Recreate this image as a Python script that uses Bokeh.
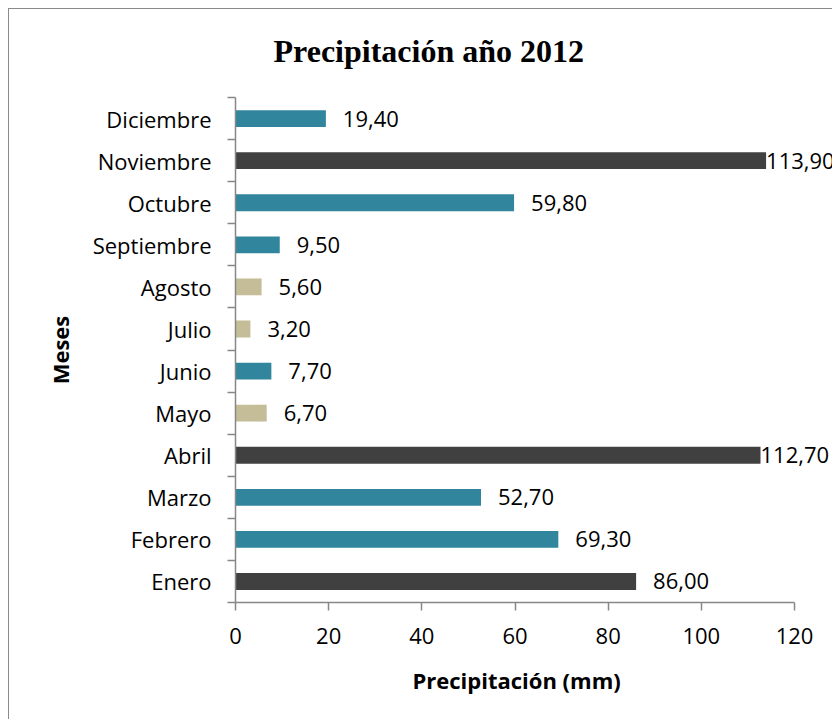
from bokeh.plotting import figure
from bokeh.models import ColumnDataSource, Range1d, FixedTicker, Label, Title
from bokeh.transform import factor_cmap
from bokeh.embed import file_html
from bokeh.resources import INLINE

meses = ["Enero", "Febrero", "Marzo", "Abril", "Mayo", "Junio", "Julio",
         "Agosto", "Septiembre", "Octubre", "Noviembre", "Diciembre"]
precipitacion = [86.00, 69.30, 52.70, 112.70, 6.70, 7.70, 3.20,
                 5.60, 9.50, 59.80, 113.90, 19.40]
nivel = ["alto", "medio", "medio", "alto", "bajo", "medio", "bajo",
         "bajo", "medio", "medio", "alto", "medio"]
x_ticks = [0, 20, 40, 60, 80, 100, 120]

niveles = ["alto", "medio", "bajo"]
colores = ["#404040", "#31859C", "#C4BD97"]

idx = list(range(len(meses)))
etiquetas = [f"{v:.2f}".replace(".", ",") for v in precipitacion]

src = ColumnDataSource(dict(y=idx, v=precipitacion, nivel=nivel))

FONT = "Open Sans"
AXC = "#878787"

W, H = 824, 711
LEFT, TOP, BOTTOM = 226, 88, 118
AXIS_PX = 559          # pixel length of the 0..120 axis
frame_w = W - LEFT
x_end = x_ticks[-1] * frame_w / AXIS_PX

p = figure(width=W, height=H, output_backend="svg", toolbar_location=None,
           x_range=Range1d(0, x_end), y_range=Range1d(-0.5, len(meses) - 0.5),
           min_border_left=LEFT, min_border_right=0, min_border_top=TOP,
           min_border_bottom=BOTTOM)
p.title = None
p.styles = {"margin-left": "8px", "margin-top": "8px",
            "border-left": "1px solid #8a8a8a", "border-top": "1px solid #8a8a8a",
            "border-right": "0px none", "border-bottom": "0px none",
            "outline": "none", "box-shadow": "none"}

p.hbar(y="y", left=0, right="v", height=0.4, source=src, line_color=None,
       fill_color=factor_cmap("nivel", palette=colores, factors=niveles))

for i, v, t in zip(idx, precipitacion, etiquetas):
    off = 0 if v > 105 else 17
    p.add_layout(Label(x=v, y=i, text=t, x_offset=off, text_font=FONT,
                       text_font_size="22px", text_color="#000000",
                       text_baseline="middle", text_align="left"))

p.add_layout(Title(text=" ", text_font_size="11px"), "above")
p.add_layout(Title(text="Precipitación año 2012", text_font="Liberation Serif",
                   text_font_size="32px", text_font_style="bold", align="left",
                   offset=38, text_color="#000000"), "above")

p.xgrid.visible = False
p.ygrid.visible = False
p.outline_line_color = None
p.background_fill_color = "white"
p.border_fill_color = "white"

xa = p.xaxis[0]
xa.ticker = FixedTicker(ticks=x_ticks, minor_ticks=[])
xa.bounds = (x_ticks[0], x_ticks[-1])
xa.axis_label = " "
xa.axis_label_text_font_size = "1px"
xa.axis_label_standoff = 7
xa.major_label_text_font = FONT
xa.major_label_text_font_size = "22px"
xa.major_label_text_color = "#000000"
xa.major_label_standoff = 17
xa.axis_line_color = AXC
xa.axis_line_width = 1.5
xa.major_tick_line_color = AXC
xa.major_tick_line_width = 1.5
xa.major_tick_out = 8
xa.major_tick_in = 0
xa.minor_tick_line_color = None

p.add_layout(Title(text="Precipitación (mm)", text_font=FONT,
                   text_font_size="22px", text_font_style="bold",
                   text_color="#000000", align="left", offset=177), "below")

ya = p.yaxis[0]
ya.ticker = FixedTicker(ticks=idx, minor_ticks=[i - 0.5 for i in range(len(meses) + 1)])
ya.major_label_overrides = {i: m for i, m in zip(idx, meses)}
ya.axis_label = "Meses"
ya.axis_label_text_font = FONT
ya.axis_label_text_font_size = "22px"
ya.axis_label_text_font_style = "bold"
ya.axis_label_text_color = "#000000"
ya.axis_label_standoff = 15
ya.major_label_text_font = FONT
ya.major_label_text_font_size = "22px"
ya.major_label_text_color = "#000000"
ya.major_label_standoff = 16
ya.axis_line_color = AXC
ya.axis_line_width = 1.5
ya.major_tick_line_color = None
ya.major_tick_out = 0
ya.major_tick_in = 0
ya.minor_tick_line_color = AXC
ya.minor_tick_line_width = 1.5
ya.minor_tick_out = 8
ya.minor_tick_in = 0

open("out.html", "w").write(file_html(p, INLINE))
